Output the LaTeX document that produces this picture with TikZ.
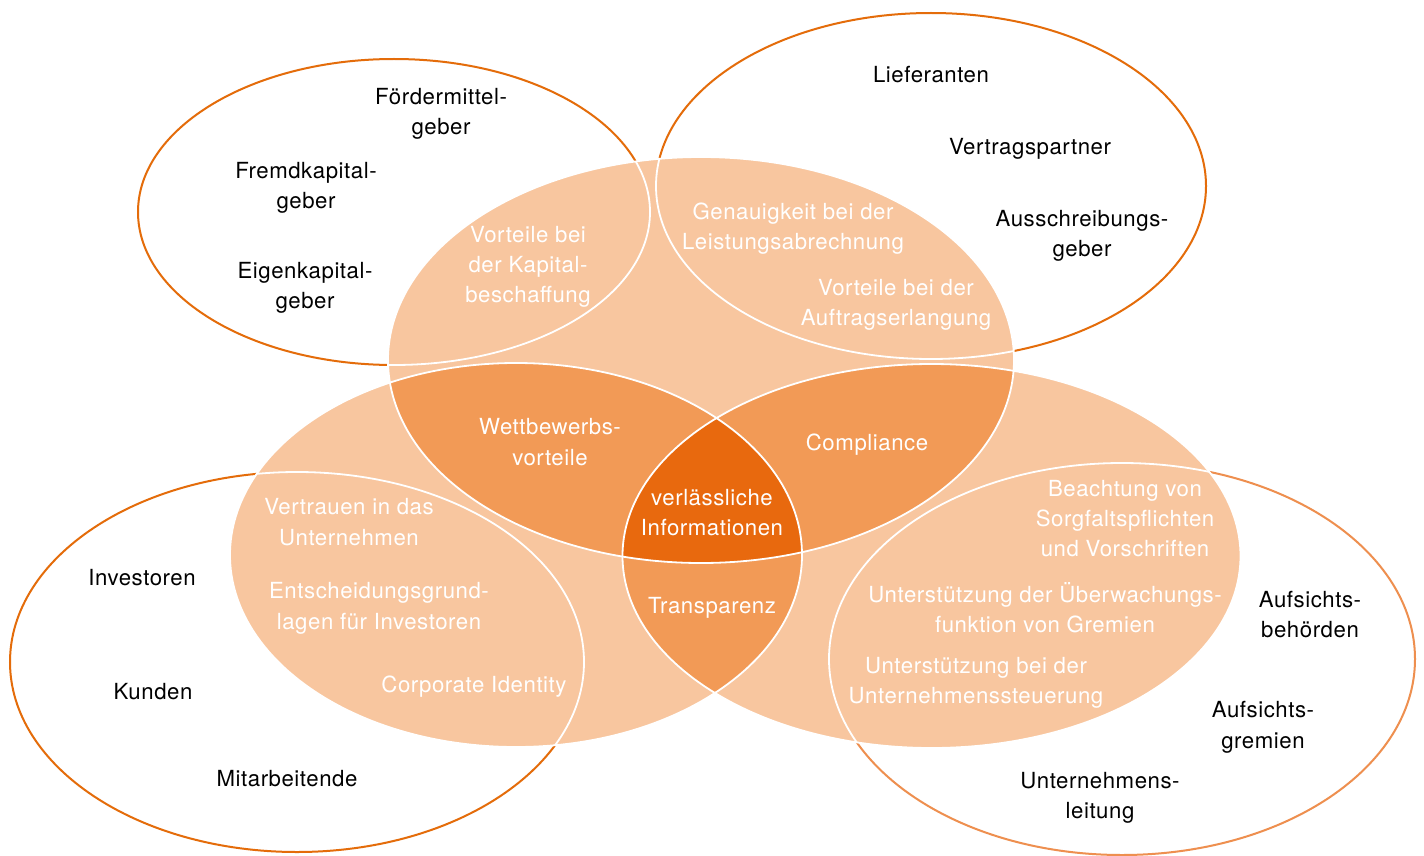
\documentclass[tikz,border=0pt]{standalone}
\usepackage{fontspec}
\setmainfont[LetterSpace=2.5]{TeX Gyre Heros}
\definecolor{lineA}{HTML}{E46C0A}
\definecolor{lineB}{HTML}{EE8F4F}
\definecolor{peach}{HTML}{F8C69F}
\definecolor{midor}{HTML}{F29A56}
\definecolor{darkor}{HTML}{E8690E}
\begin{document}
\begin{tikzpicture}[x=1pt,y=-1pt,
  lbl/.style={align=center, inner sep=0pt, font=\fontsize{22.2}{30.3}\selectfont,
    execute at begin node=\strut, execute at end node=\strut},
  blk/.style={lbl, text=black},
  wht/.style={lbl, text=white},
  outerell/.style={fill=white, draw=#1, line width=2pt},
  whiteline/.style={draw=white, line width=1.8pt}]
\def\eTL{(394,212) ellipse [x radius=256pt, y radius=153pt]}
\def\eTR{(931,186) ellipse [x radius=275pt, y radius=173pt]}
\def\eBL{(297,662) ellipse [x radius=287pt, y radius=190pt]}
\def\eBR{(1122,659) ellipse [x radius=293pt, y radius=196pt]}
\def\pT{(701,360) ellipse [x radius=313pt, y radius=203pt]}
\def\pL{(516,555) ellipse [x radius=286pt, y radius=192pt]}
\def\pR{(931.5,556) ellipse [x radius=309pt, y radius=192pt]}
\fill[white] (0,0) rectangle (1424,856);
\useasboundingbox (0,0) rectangle (1424,856);
% outer ellipses
\path[outerell=lineA] \eTL;
\path[outerell=lineA] \eTR;
\path[outerell=lineA] \eBL;
\path[outerell=lineB] \eBR;
% peach ellipses
\fill[peach] \pT;
\fill[peach] \pL;
\fill[peach] \pR;
\begin{scope}\clip \pT; \fill[midor] \pL; \fill[midor] \pR; \end{scope}
\begin{scope}\clip \pL; \fill[midor] \pR; \end{scope}
\begin{scope}\clip \pT; \clip \pL; \fill[darkor] \pR; \end{scope}
% white outlines inside peach areas
\begin{scope}\clip \pT; \path[whiteline] \eTL \eTR \eBL \eBR; \end{scope}
\begin{scope}\clip \pL; \path[whiteline] \eTL \eTR \eBL \eBR; \end{scope}
\begin{scope}\clip \pR; \path[whiteline] \eTL \eTR \eBL \eBR; \end{scope}
\path[whiteline] \pT;
\path[whiteline] \pL;
\path[whiteline] \pR;
% black labels
\node[blk] (foerder) at (441,116) {Fördermittel-\\geber};
\node[blk] (fremd) at (306,190) {Fremdkapital-\\geber};
\node[blk] (eigen) at (305,290) {Eigenkapital-\\geber};
\node[blk] (liefer) at (931,76.5) {Lieferanten};
\node[blk] (vertrag) at (1030,148.5) {Vertragspartner};
\node[blk] (ausschr) at (1082,238) {Ausschreibungs-\\geber};
\node[blk] (invest) at (142,579.5) {Investoren};
\node[blk] (kunden) at (153,693.5) {Kunden};
\node[blk] (mitarb) at (287,780.5) {Mitarbeitende};
\node[blk] (behoerd) at (1310,619) {Aufsichts-\\behörden};
\node[blk] (gremien) at (1263,729.5) {Aufsichts-\\gremien};
\node[blk] (leitung) at (1100,800) {Unternehmens-\\leitung};
% white labels
\node[wht] (kapital) at (528,269) {Vorteile bei\\der Kapital-\\beschaffung};
\node[wht] (genau) at (793,231) {Genauigkeit bei der\\Leistungsabrechnung};
\node[wht] (auftrag) at (896,307) {Vorteile bei der\\Auftragserlangung};
\node[wht] (wettb) at (550,446.5) {Wettbewerbs-\\vorteile};
\node[wht] (compl) at (867,444.5) {Compliance};
\node[wht] (verl) at (712,517) {verlässliche\\Informationen};
\node[wht] (transp) at (712,607.5) {Transparenz};
\node[wht] (vertrauen) at (349,526.5) {Vertrauen in das\\Unternehmen};
\node[wht] (entsch) at (379,610.5) {Entscheidungsgrund-\\lagen für Investoren};
\node[wht] (corp) at (474,686) {Corporate Identity};
\node[wht] (beacht) at (1125,523) {Beachtung von\\Sorgfaltspflichten\\und Vorschriften};
\node[wht] (ueberw) at (1045,612) {Unterstützung der Überwachungs-\\funktion von Gremien};
\node[wht] (steuer) at (976,685) {Unterstützung bei der\\Unternehmenssteuerung};
\end{tikzpicture}
\end{document}
